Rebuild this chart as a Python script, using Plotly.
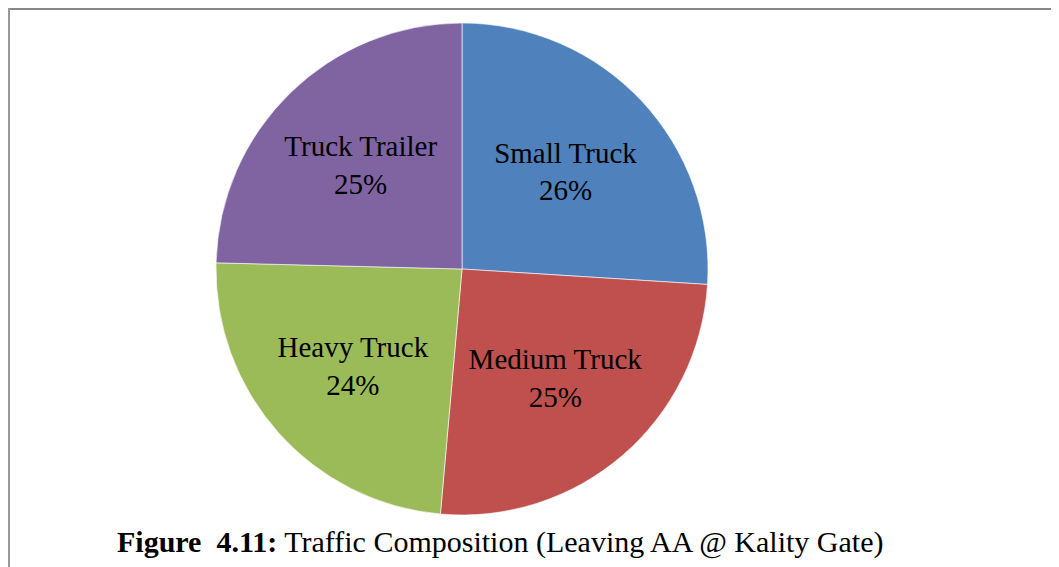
import plotly.graph_objects as go

# dados (percentuais)
categorias = ["Small Truck", "Medium Truck", "Heavy Truck", "Truck Trailer"]
valores = [26.0, 25.4, 24.0, 24.6]
cores = ["#4F81BD", "#C0504D", "#9BBB59", "#8064A2"]

legenda = "<b>Figure  4.11:</b> Traffic Composition (Leaving AA @ Kality Gate)"

# a página tem margem de 8px no body; coordenadas abaixo já descontam isso
OFF = 8
W, H = 1059 - OFF, 567 - OFF


def px(x):
    return (x - OFF) / W


def py(y):
    return 1 - (y - OFF) / H


trace = go.Pie(
    labels=categorias,
    values=valores,
    sort=False,
    direction="clockwise",
    rotation=0,
    texttemplate="%{label}<br>%{percent:.0%}",
    textposition="inside",
    insidetextorientation="horizontal",
    textfont=dict(family="Liberation Serif", size=29, color="black"),
    marker=dict(colors=cores, line=dict(color="rgba(255,255,255,0.6)", width=1)),
    showlegend=False,
    hoverinfo="label+percent",
    domain=dict(x=[px(216), px(708)], y=[py(515), py(23)]),
)

fig = go.Figure(data=[trace])
fig.update_layout(
    width=W,
    height=H,
    margin=dict(l=0, r=0, t=0, b=0),
    paper_bgcolor="white",
    plot_bgcolor="white",
    shapes=[
        dict(type="line", xref="paper", yref="paper", x0=0, x1=1,
             y0=1 - 0.5 / H, y1=1 - 0.5 / H, line=dict(color="#888888", width=3)),
        dict(type="line", xref="paper", yref="paper", x0=0.5 / W, x1=0.5 / W,
             y0=0, y1=1, line=dict(color="#999999", width=3)),
    ],
    annotations=[
        dict(text=legenda, xref="paper", yref="paper", x=px(500), y=py(542),
             xanchor="center", yanchor="middle", showarrow=False,
             font=dict(family="Liberation Serif", size=30, color="black")),
    ],
)

fig.write_html("out.html")
